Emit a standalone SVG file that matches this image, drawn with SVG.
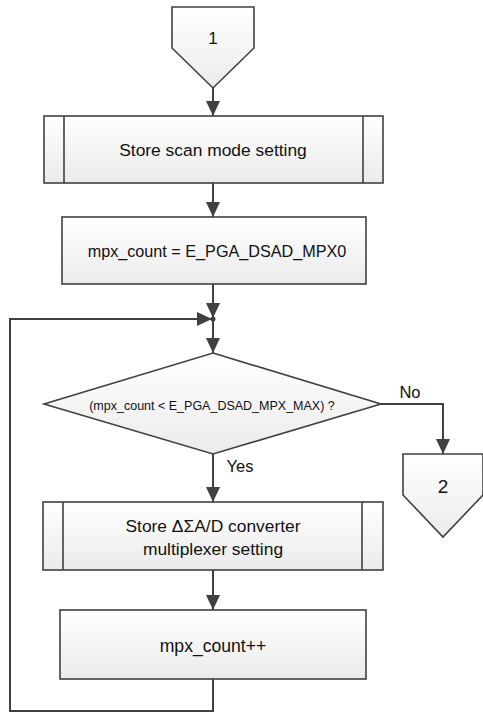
<svg xmlns="http://www.w3.org/2000/svg" width="483" height="715" viewBox="0 0 483 715">
<defs>
<linearGradient id="g" x1="0" y1="0" x2="0" y2="1">
<stop offset="0" stop-color="#ffffff"/>
<stop offset="1" stop-color="#ebebeb"/>
</linearGradient>
<marker id="arr" markerUnits="userSpaceOnUse" markerWidth="16" markerHeight="16" refX="15" refY="7" orient="auto">
<path d="M0,0 L15,7 L0,14 z" fill="#404040"/>
</marker>
</defs>
<style>
.s{fill:url(#g);stroke:#404040;stroke-width:1.6}
.l{fill:none;stroke:#404040;stroke-width:2}
.t{font-family:"Liberation Sans",Arial,sans-serif;fill:#111;text-anchor:middle}
</style>
<rect width="483" height="715" fill="#fff"/>
<g id="connectors">
<path class="l" d="M213,88 V116" marker-end="url(#arr)"/>
<path class="l" d="M213,183 V217" marker-end="url(#arr)"/>
<path class="l" d="M213,284 V318" marker-end="url(#arr)"/>
<path class="l" d="M213,319 V353" marker-end="url(#arr)"/>
<path class="l" d="M381,404 H443 V454" marker-end="url(#arr)"/>
<path class="l" d="M213,454 V502" marker-end="url(#arr)"/>
<path class="l" d="M213,570 V610" marker-end="url(#arr)"/>
<path class="l" d="M213,679 V711 H10 V319 H212" marker-end="url(#arr)"/>
<circle cx="213" cy="319" r="2.5" fill="#404040"/>
<text class="t" x="410" y="398" font-size="16.5">No</text>
<text class="t" x="240" y="472" font-size="16.5">Yes</text>
</g>
<g id="c1">
<path class="s" d="M172,7 H254 V48 L213,88 L172,48 Z"/>
<text class="t" x="213" y="44" font-size="17">1</text>
</g>
<g id="n1">
<rect class="s" x="44" y="116" width="339" height="67"/>
<path class="l" style="stroke-width:1.6" d="M64,116 V183 M363,116 V183"/>
<text class="t" x="213" y="156" font-size="17.4">Store scan mode setting</text>
</g>
<g id="n2">
<rect class="s" x="62" y="217" width="304" height="67"/>
<text class="t" x="217" y="257" font-size="16.2">mpx_count = E_PGA_DSAD_MPX0</text>
</g>
<g id="d1">
<path class="s" d="M213,353 L381,404 L213,454 L44,404 Z"/>
<text class="t" x="212" y="410" font-size="12.5">(mpx_count &lt; E_PGA_DSAD_MPX_MAX) ?</text>
</g>
<g id="c2">
<path class="s" d="M403,454 H483 V495 L443,537 L403,495 Z"/>
<text class="t" x="443" y="493" font-size="19">2</text>
</g>
<g id="n3">
<rect class="s" x="43" y="502" width="340" height="68"/>
<path class="l" style="stroke-width:1.6" d="M63,502 V570 M362,502 V570"/>
<text class="t" x="213" y="532" font-size="17.4">Store ΔΣA/D converter</text>
<text class="t" x="213" y="555" font-size="17.4">multiplexer setting</text>
</g>
<g id="n4">
<rect class="s" x="60" y="610" width="306" height="69"/>
<text class="t" x="213" y="652" font-size="17.6">mpx_count++</text>
</g>
</svg>
